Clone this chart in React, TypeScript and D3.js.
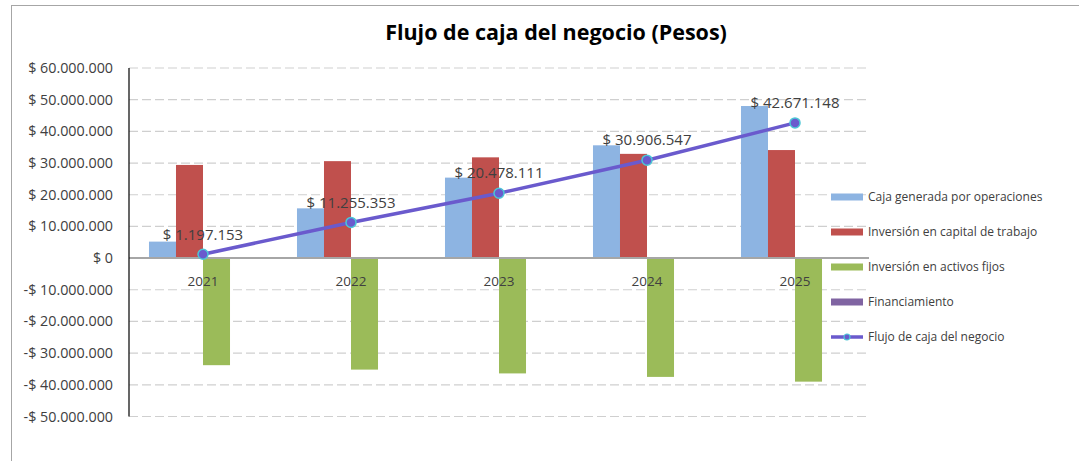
import React from 'react';
import * as d3 from 'd3';

const years = ['2021', '2022', '2023', '2024', '2025'];
const cajaOperaciones = [5200000, 15700000, 25400000, 35600000, 48000000];
const capitalTrabajo = [29400000, 30600000, 31800000, 32900000, 34100000];
const activosFijos = [-33800000, -35200000, -36400000, -37500000, -39000000];
const financiamiento = [0, 0, 0, 0, 0];
const flujoCaja = [1197153, 11255353, 20478111, 30906547, 42671148];
const yTicks = [60e6, 50e6, 40e6, 30e6, 20e6, 10e6, 0, -10e6, -20e6, -30e6, -40e6, -50e6];
const barNames = [
  'Caja generada por operaciones',
  'Inversión en capital de trabajo',
  'Inversión en activos fijos',
  'Financiamiento',
];
const lineName = 'Flujo de caja del negocio';
const title = 'Flujo de caja del negocio (Pesos)';

const barSeries = [cajaOperaciones, capitalTrabajo, activosFijos, financiamiento];
const barColors = ['#8DB4E2', '#C0504D', '#9BBB59', '#8064A2'];
const lineColor = '#6A5ACD';
const markerStroke = '#4BC6D6';
const FONT = '"Open Sans", sans-serif';

const fmt = (v: number) => {
  const s = d3.format(',')(Math.abs(v)).replace(/,/g, '.');
  return (v < 0 ? '-' : '') + '$ ' + s;
};

export default function App() {
  const left = 129, right = 869, top = 68, bottom = 416.5;
  const y = d3.scaleLinear().domain([-50e6, 60e6]).range([bottom, top]);
  const x0 = d3.scaleBand<string>().domain(years).range([left, right]).padding(0);
  const groupW = x0.bandwidth() * 0.73;
  const x1 = d3.scaleBand<number>().domain([0, 1, 2, 3]).range([0, groupW]).padding(0);
  const off = (x0.bandwidth() - groupW) / 2;
  const cx = (yr: string) => (x0(yr) as number) + x0.bandwidth() / 2;
  const line = d3.line<number>().x((_, i) => cx(years[i])).y((d) => y(d));

  return (
    <svg width={1079} height={461} style={{ position: 'absolute', left: 0, top: 0, background: '#fff' }}>
      <rect x={11.5} y={5.5} width={1100} height={500} fill="#fff" stroke="#a6a6a6" strokeWidth={1} />
      <text x={556} y={40} textAnchor="middle" fontFamily={FONT} fontWeight="bold" fontSize={21.5} fill="#000">
        {title}
      </text>
      {yTicks.map((t) => (
        <g key={t}>
          {t !== 0 && (
            <line x1={left} x2={right} y1={y(t)} y2={y(t)} stroke="#cfcfcf" strokeWidth={1.2} strokeDasharray="9,4" />
          )}
          <text x={113} y={y(t)} dy="0.35em" textAnchor="end" fontFamily={FONT} fontSize={14.3} fill="#404040">
            {fmt(t)}
          </text>
        </g>
      ))}
      {barSeries.map((vals, si) =>
        vals.map((v, i) => (
          <rect
            key={si + '-' + i}
            x={(x0(years[i]) as number) + off + (x1(si) as number)}
            y={Math.min(y(v), y(0))}
            width={x1.bandwidth()}
            height={Math.abs(y(v) - y(0))}
            fill={barColors[si]}
          />
        ))
      )}
      <line x1={left} x2={right} y1={y(0)} y2={y(0)} stroke="#a6a6a6" strokeWidth={2} />
      <line x1={left} x2={left} y1={top} y2={bottom} stroke="#000" strokeWidth={1.2} />
      {years.map((yr) => (
        <text key={yr} x={cx(yr)} y={281} dy="0.35em" textAnchor="middle" fontFamily={FONT} fontSize={13.5} fill="#404040">
          {yr}
        </text>
      ))}
      <path d={line(flujoCaja) as string} fill="none" stroke={lineColor} strokeWidth={3.5} />
      {flujoCaja.map((v, i) => (
        <g key={i}>
          <circle cx={cx(years[i])} cy={y(v)} r={5} fill={lineColor} stroke={markerStroke} strokeWidth={1.5} />
          <text x={cx(years[i])} y={y(v) - 20} dy="0.35em" textAnchor="middle" fontFamily={FONT} fontSize={15} fill="#404040">
            {fmt(v)}
          </text>
        </g>
      ))}
      {barNames.map((n, i) => (
        <g key={n} transform={`translate(831, ${197 + i * 35})`}>
          <rect x={0} y={-3.5} width={32} height={7} fill={barColors[i]} />
          <text x={37} y={0} dy="0.35em" fontFamily={FONT} fontSize={12} fill="#404040">
            {n}
          </text>
        </g>
      ))}
      <g transform={`translate(831, ${197 + 4 * 35})`}>
        <line x1={0} x2={32} y1={0} y2={0} stroke={lineColor} strokeWidth={3.5} />
        <circle cx={16} cy={0} r={3} fill={lineColor} stroke={markerStroke} strokeWidth={1.2} />
        <text x={37} y={0} dy="0.35em" fontFamily={FONT} fontSize={12} fill="#404040">
          {lineName}
        </text>
      </g>
    </svg>
  );
}
